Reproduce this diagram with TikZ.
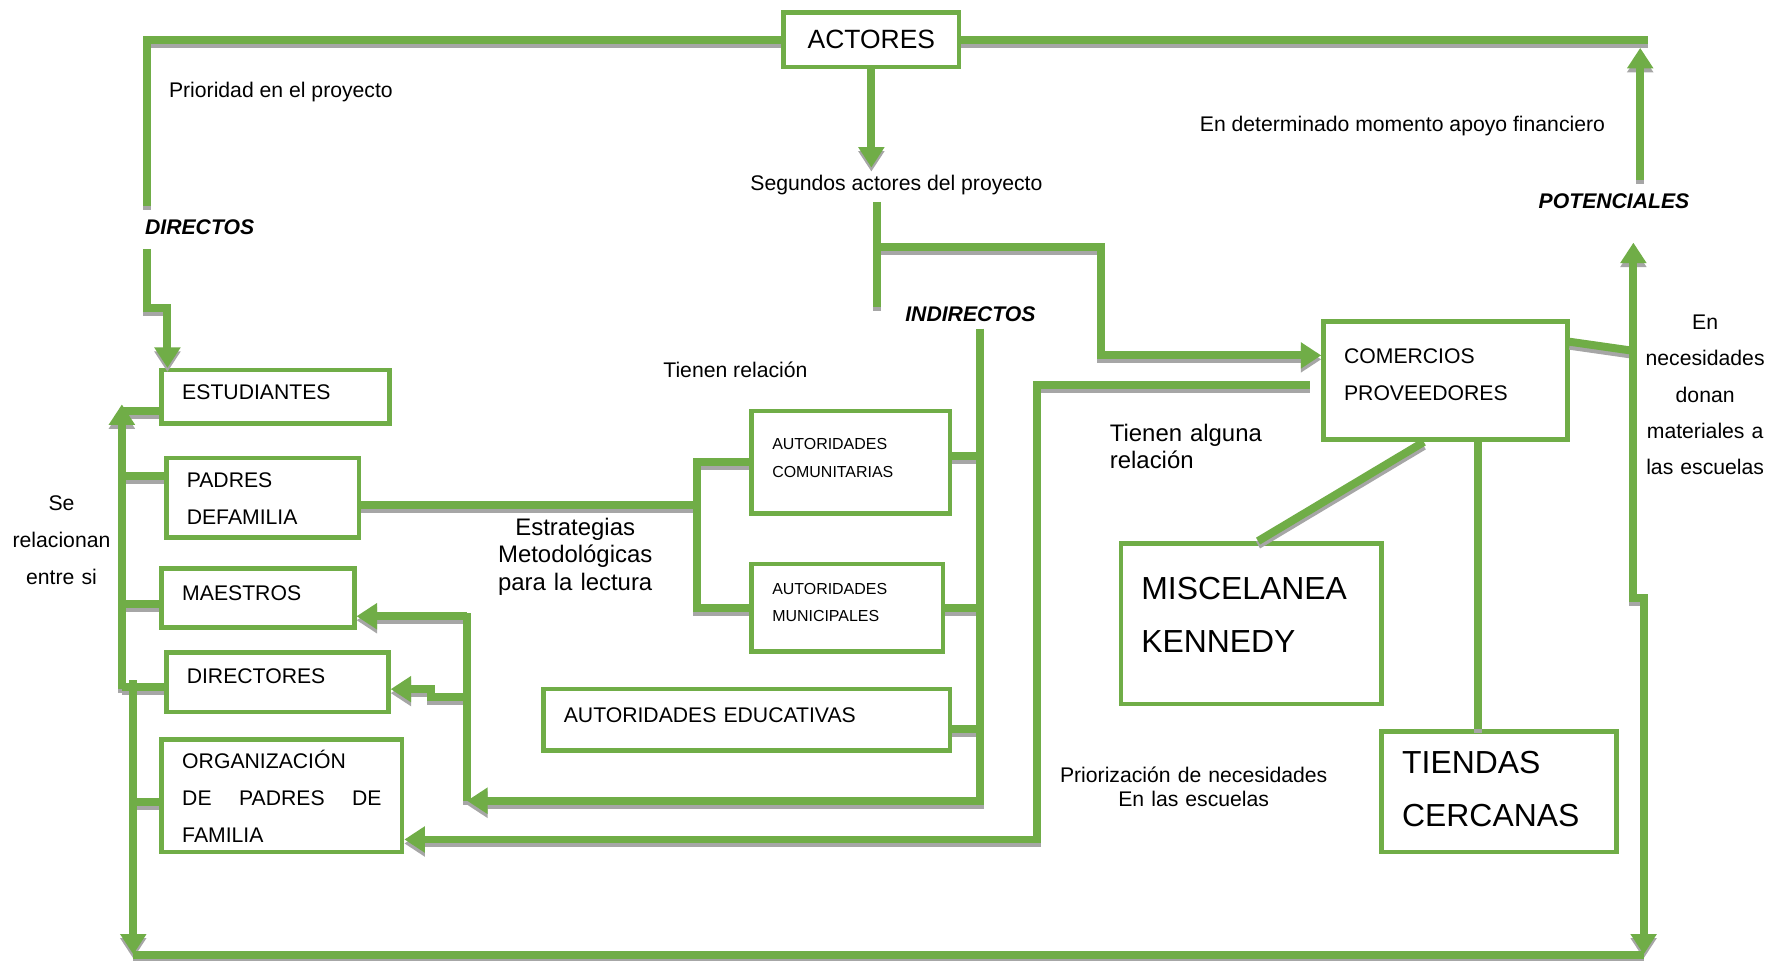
\documentclass[tikz,border=0pt]{standalone}
\usepackage{fontspec}
\setmainfont{Liberation Sans}
\usetikzlibrary{arrows.meta}
\definecolor{lgreen}{HTML}{70AD47}
\definecolor{shade}{HTML}{A6A6A6}
\tikzset{
	box/.style 2 args={draw=lgreen,line width=2pt,anchor=north west,align=left,inner xsep=9pt,inner ysep=0pt,text height=#1,text depth=#2},
	tri/.tip={Triangle[length=9pt,width=11pt]},
	lbl/.style={inner xsep=0pt,inner ysep=3pt},
	cat/.style={lbl,font=\fontsize{9.3}{12}\selectfont\bfseries\itshape},
	small/.style={font=\fontsize{7}{12}\selectfont},
	big/.style={font=\fontsize{14}{23.5}\selectfont}
}

\begin{document}
\begin{tikzpicture}[x=0.5pt,y=-0.5pt,font=\fontsize{9.3}{16.25}\selectfont]
	\useasboundingbox (0,0) rectangle (1568,843);

	\node [box={16pt}{8pt},align=center,inner xsep=0pt,text width=77pt,font=\fontsize{11.6}{14}\selectfont] (actores) at (686,9) {ACTORES};
	\node [box={13pt}{10.5pt},text width=82pt] (estudiantes) at (140,323) {ESTUDIANTES};
	\node [box={13pt}{22pt},text width=66.5pt] (padres) at (144,400) {PADRES\\DEFAMILIA};
	\node [box={14pt}{12pt},text width=66.5pt] (maestros) at (140,497) {MAESTROS};
	\node [box={13.5pt}{12.5pt},text width=79.5pt] (directores) at (144,571) {DIRECTORES};
	\node [box={13pt}{36.5pt},text width=87.5pt] (organizacion) at (140,647) {ORGANIZACIÓN\\\makebox[\linewidth]{DE\hfill PADRES\hfill DE}\\FAMILIA};
	\node [box={17pt}{28pt},text width=69pt,small] (autcom) at (658,359) {AUTORIDADES\\COMUNITARIAS};
	\node [box={13.5pt}{25pt},text width=66pt,small] (autmun) at (658,493) {AUTORIDADES\\MUNICIPALES};
	\node [box={14.5pt}{12.5pt},text width=160.5pt] (autedu) at (475,603) {AUTORIDADES EDUCATIVAS};
	\node [box={18.5pt}{33.5pt},text width=89pt] (comercios) at (1160,280) {COMERCIOS\\PROVEEDORES};
	\node [box={24.5pt}{46pt},text width=96.5pt,big] (miscelanea) at (982,475) {MISCELANEA\\KENNEDY};
	\node [box={18.5pt}{34.5pt},text width=85pt,big] (tiendas) at (1211,640) {TIENDAS\\CERCANAS};

	\node [lbl,anchor=base west] (prioridad) at (148,86) {Prioridad en el proyecto};
	\node [lbl,anchor=base] (segundos) at (787,167) {Segundos actores del proyecto};
	\node [lbl,anchor=base west] (apoyo) at (1053,115) {En determinado momento apoyo financiero};
	\node [lbl,anchor=base west] (relacion) at (582,331) {Tienen relación};
	\node [cat,anchor=base west,inner ysep=6pt] (directos) at (127,206) {DIRECTOS};
	\node [cat,anchor=base] (indirectos) at (852,282) {INDIRECTOS};
	\node [cat,anchor=base,inner ysep=6pt] (potenciales) at (1417,183) {POTENCIALES};
	\node [lbl,anchor=base,text width=80pt,align=center,font=\fontsize{10.5}{12}\selectfont] (estrategias) at (505,470) {Estrategias\\Metodológicas\\para la lectura};
	\node [lbl,anchor=base west,text width=75pt,align=left,font=\fontsize{10.5}{11.5}\selectfont] (alguna) at (974,388) {Tienen alguna\\relación};
	\node [lbl,anchor=base,text width=125pt,align=center,font=\fontsize{9.3}{10.5}\selectfont] (priorizacion) at (1048,687) {Priorización de necesidades\\En las escuelas};
	\node [lbl,anchor=base,text width=50pt,align=center] (serelacionan) at (54,448) {Se\\relacionan\\entre si};
	\node [lbl,anchor=base,text width=58pt,align=center,font=\fontsize{9.3}{16}\selectfont] (donan) at (1497,289) {En\\necesidades\\donan\\materiales a\\las escuelas};

	\coordinate (topright) at (1447,35);
	\coordinate (forkI) at (967,217);
	\coordinate (colI) at (860,703);
	\coordinate (colD) at (410,703);
	\coordinate (fork) at (612,443);
	\coordinate (colC) at (910,737);
	\coordinate (potup) at (1440,42);
	\coordinate (pottip) at (1434,213);
	\coordinate (jog) at (1434,525);
	\coordinate (downR) at (1443,838);
	\coordinate (downL) at (117,838);
	\coordinate (upL) at (107,355);
	\coordinate (lowL) at (107,605);

	\foreach \col/\dy in {shade/-1.75pt,lgreen/0pt}{
	\begin{scope}[transform canvas={yshift=\dy},conn/.style={draw=\col,line width=3.5pt}]
	\draw [conn] (actores.west) -| ([shift={(2,0)}]directos.north west);
	\draw [conn,-tri] ([shift={(2,0)}]directos.south west) -- ++(0,52) -| ([shift={(7,0)}]estudiantes.north west);
	\draw [conn] (actores.east) -- (topright);
	\draw [conn,-tri] (potenciales.north -| potup) -- (potup);
	\draw [conn,-tri] (actores.south) -- (actores.south |- segundos.north);
	\draw [conn] ([shift={(5,0)}]actores.south |- segundos.south) -- ++(0,92);
	\draw [conn,-tri] ([shift={(5,0)}]actores.south |- forkI) -- (forkI) |- ([shift={(0,32)}]comercios.north west);
	\draw [conn,-tri] (indirectos.south -| colI) -- (colI) -- (colD);
	\draw [conn] ([shift={(0,-6)}]autcom.east) -- ([shift={(0,-6)}]autcom.east -| colI);
	\draw [conn] (autmun.east) -- (autmun.east -| colI);
	\draw [conn] ([shift={(0,8)}]autedu.east) -- ([shift={(0,8)}]autedu.east -| colI);
	\draw [conn] (colD) -- (colD |- 0,538);
	\draw [conn,-tri] (colD |- 0,541) -- (maestros.east |- 0,541);
	\draw [conn,-tri] (colD |- 0,612) -- ++(-32,0) |- (directores.east |- 0,605);
	\draw [conn] (padres.east |- fork) -- (fork);
	\draw [conn] (autcom.west) -| (fork) |- (autmun.west);
	\draw [conn,-tri] ([shift={(-10,4)}]comercios.west) -| (colC) -- (organizacion.east |- colC);
	\draw [conn] ([shift={(-19,0)}]comercios.south) -- ([shift={(6,0)}]miscelanea.north);
	\draw [conn] ([shift={(29,0)}]comercios.south) -- ([shift={(29,0)}]comercios.south |- tiendas.north);
	\draw [conn] ([shift={(0,-34)}]comercios.east) -- (jog |- 0,308);
	\draw [conn,tri-tri] (pottip) -- (jog) -| (downR);
	\draw [conn] (downL) -- (downR);
	\draw [conn,-tri] (lowL) -- (upL);
	\draw [conn] ([shift={(0,12)}]estudiantes.west) -- ([shift={(0,12)}]estudiantes.west -| upL);
	\draw [conn] ([shift={(0,-19)}]padres.west) -- ([shift={(0,-19)}]padres.west -| upL);
	\draw [conn] ([shift={(0,5)}]maestros.west) -- ([shift={(0,5)}]maestros.west -| upL);
	\draw [conn] ([shift={(0,4)}]directores.west) -- ([shift={(0,4)}]directores.west -| upL);
	\draw [conn,-tri] (downL |- 0,597) -- (downL);
	\draw [conn] ([shift={(0,6)}]organizacion.west) -- ([shift={(0,6)}]organizacion.west -| downL);
	\end{scope}
	}
\end{tikzpicture}
\end{document}
